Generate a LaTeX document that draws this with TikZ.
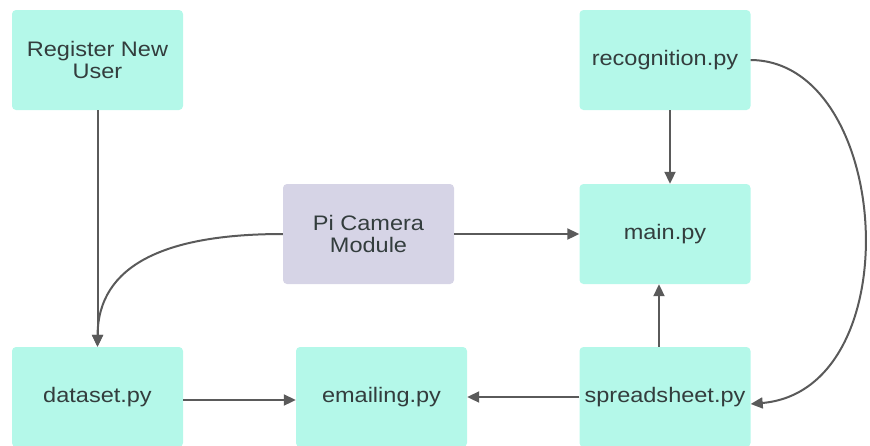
\documentclass[tikz,border=0pt]{standalone}
\usepackage{fontspec}
\setmainfont[FakeStretch=1.12]{Liberation Sans}
\usetikzlibrary{arrows.meta}
\definecolor{mint}{HTML}{B4F8E9}
\definecolor{lav}{HTML}{D6D4E6}
\definecolor{txt}{HTML}{333D3D}
\definecolor{wire}{HTML}{5A5A5A}
\tikzset{
  box/.style={rectangle, rounded corners=4pt, fill=mint, draw=none,
    minimum width=171pt, minimum height=100pt, inner sep=0pt,
    align=center, text=txt, font=\fontsize{21}{22}\selectfont},
  cambox/.style={box, fill=lav},
  link/.style={draw=wire, line width=2pt,
    -{Triangle[length=12pt,width=11pt]}}
}
\begin{document}
\begin{tikzpicture}[x=1pt,y=-1pt]
  \useasboundingbox (0,0) rectangle (870,445);
  \clip (0,0) rectangle (870,445);

  % components
  \node[box]    (reg)   at (97.5,60)  {Register New\\User};
  \node[box]    (rec)   at (665,60)   {recognition.py};
  \node[cambox] (cam)   at (368.5,234) {Pi Camera\\Module};
  \node[box]    (main)  at (665,234)  {main.py};
  \node[box]    (data)  at (97.5,397) {dataset.py};
  \node[box]    (email) at (381.5,397) {emailing.py};
  \node[box]    (sheet) at (665,397)  {spreadsheet.py};

  % data flow
  \draw[link] (reg.south) -- (data.north);
  \draw[link] (cam.west) .. controls (165,234) and (98,265) .. (data.north);
  \draw[link] (cam.east) -- (main.west);
  \draw[link] ([xshift=5pt]rec.south) -- ([xshift=5pt]main.north);
  \draw[link] ([xshift=-6pt]sheet.north) -- ([xshift=-6pt]main.south);
  \draw[link] (sheet.west) -- (email.east);
  \draw[link] ([yshift=-3pt]data.east) -- ([yshift=-3pt]email.west);
  \draw[link] (rec.east) .. controls (892,61) and (912,390) .. ([yshift=-7pt]sheet.east);
\end{tikzpicture}
\end{document}
